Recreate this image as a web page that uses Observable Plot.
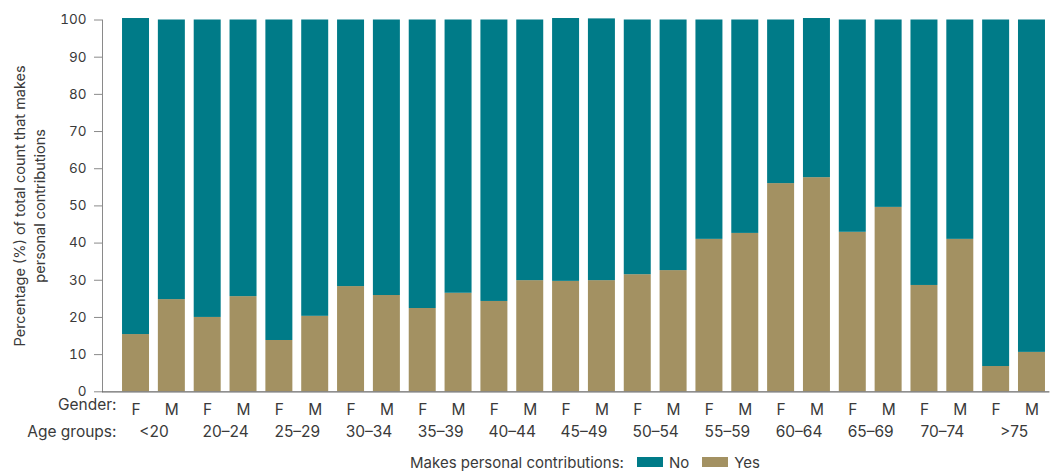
<!DOCTYPE html>
<html>
<head>
<meta charset="utf-8">
<script src="https://cdn.jsdelivr.net/npm/d3@7"></script>
<script src="https://cdn.jsdelivr.net/npm/@observablehq/plot@0.6"></script>
<style>
  html, body { margin: 0; padding: 0; background: #fff; }
  body { width: 1052px; font-family: Inter, "Open Sans", sans-serif; color: #3a3a3a; }
  #legend { display: flex; justify-content: center; align-items: center; height: 20px; font-size: 15px; padding-left: 118px; }
  #legend .sw { display: inline-block; width: 26px; height: 10px; margin: 0 6px 0 13px; }
</style>
</head>
<body>
<div id="chart"></div>
<div id="legend"></div>
<script>
const ageGroups = ["<20", "20–24", "25–29", "30–34", "35–39", "40–44", "45–49", "50–54", "55–59", "60–64", "65–69", "70–74", ">75"];
const genders = ["F", "M"];
const responses = ["No", "Yes"];
const responseColors = ["#007b88", "#a39162"];
// Values per bar, order: <20 F, <20 M, 20–24 F, 20–24 M, ...
const yesValues = [15.4, 24.8, 20.0, 25.6, 13.8, 20.3, 28.3, 25.9, 22.4, 26.5, 24.3, 29.9, 29.7, 29.9, 31.5, 32.6, 41.0, 42.6, 56.0, 57.6, 42.9, 49.6, 28.6, 41.0, 6.8, 10.6];
const noValues  = [85.0, 75.2, 80.0, 74.4, 86.2, 79.7, 71.7, 74.1, 77.6, 73.5, 75.7, 70.1, 70.7, 70.4, 68.5, 67.4, 59.0, 57.4, 44.0, 42.8, 57.1, 50.4, 71.4, 59.0, 93.2, 89.4];
const yTicks = [0, 10, 20, 30, 40, 50, 60, 70, 80, 90, 100];
const yLabel = "Percentage (%) of total count that makes\npersonal contributions";
const legendTitle = "Makes personal contributions:";

const bars = ageGroups.flatMap(a => genders.map(g => ({age: a, gender: g, key: a + "|" + g})));
const keys = bars.map(b => b.key);
const rows = [];
bars.forEach((b, i) => {
  rows.push({...b, response: "Yes", value: yesValues[i]});
  rows.push({...b, response: "No", value: noValues[i]});
});
const ageRows = ageGroups.map(a => ({age: a, key: a + "|F"}));

const W = 1052, H = 452;
const mL = 102, mR = 2.6, inL = 15.6;
const step = (W - mL - mR - inL) / keys.length;
const textColor = "#3a3a3a";

const chart = Plot.plot({
  width: W,
  height: H,
  marginTop: 19.5,
  marginBottom: H - 391.3,
  marginLeft: mL,
  marginRight: mR,
  style: {fontFamily: "Inter, 'Open Sans', sans-serif", color: textColor, background: "#fff"},
  x: {type: "band", domain: keys, paddingInner: 0.247, paddingOuter: 0.1235, insetLeft: inL, round: false},
  y: {domain: [0, 100]},
  color: {domain: responses, range: responseColors},
  marks: [
    Plot.barY(rows, Plot.stackY({x: "key", y: "value", fill: "response", order: ["Yes", "No"]})),
    Plot.frame({anchor: "left", stroke: "#8a8a8a"}),
    Plot.ruleY([0], {stroke: "#6a6a6a", strokeWidth: 1.2}),
    Plot.axisY({ticks: yTicks, tickSize: 8, tickPadding: 8, fontSize: 13.5, label: null, stroke: "#8a8a8a", fill: textColor}),
    Plot.axisX({tickSize: 0, tickPadding: 12, fontSize: 15.5, label: null, tickFormat: k => k.split("|")[1], fill: textColor}),
    Plot.text(ageRows, {x: "key", text: "age", frameAnchor: "bottom", dx: step / 2, dy: 45, fontSize: 15.5, fill: textColor}),
    Plot.text(["Gender:"], {frameAnchor: "bottom-left", text: d => d, dx: 14, dy: 18, textAnchor: "end", fontSize: 15.5, fill: textColor}),
    Plot.text(["Age groups:"], {frameAnchor: "bottom-left", text: d => d, dx: 14, dy: 45, textAnchor: "end", fontSize: 15.5, fill: textColor}),
    Plot.text([yLabel], {frameAnchor: "left", text: d => d, rotate: -90, dx: -74, textAnchor: "middle", lineAnchor: "middle", lineHeight: 1.4, fontSize: 14.5, fill: textColor})
  ]
});
document.getElementById("chart").appendChild(chart);

const legend = document.getElementById("legend");
const t = document.createElement("span");
t.textContent = legendTitle;
legend.appendChild(t);
responses.forEach((r, i) => {
  const sw = document.createElement("span");
  sw.className = "sw";
  sw.style.background = responseColors[i];
  legend.appendChild(sw);
  const l = document.createElement("span");
  l.textContent = r;
  legend.appendChild(l);
});
</script>
</body>
</html>
